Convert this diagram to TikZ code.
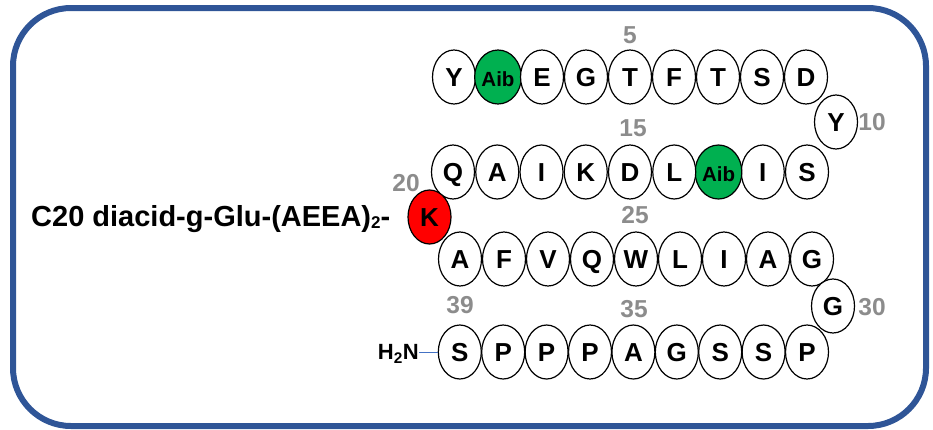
\documentclass[tikz,border=0pt]{standalone}
\usepackage{fontspec}
\setmainfont{Liberation Sans}
\usetikzlibrary{shapes.geometric}
\definecolor{frameblue}{HTML}{2F5597}
\definecolor{aibgreen}{HTML}{00B050}
\definecolor{lysred}{HTML}{FF0000}
\definecolor{numgray}{HTML}{8C8C8C}
\definecolor{linkblue}{HTML}{4472C4}
\newcommand{\aibtxt}{{\fontsize{20.5}{20.5}\selectfont Aib}}
\newcommand{\smallsubtwo}{\raisebox{-2pt}{\fontsize{17}{17}\selectfont 2}}
\tikzset{
  res/.style={ellipse, draw=black, line width=1.2pt, fill=white,
    minimum width=43pt, minimum height=54pt, inner sep=0pt,
    font=\fontsize{26}{26}\selectfont\bfseries, text height=18.6pt, text depth=0pt},
  num/.style={text=numgray, font=\fontsize{24.5}{24.5}\selectfont\bfseries,
    inner sep=0pt, text height=17.5pt, text depth=0pt},
  chaintext/.style={font=\fontsize{29}{29}\selectfont\bfseries, inner sep=0pt},
  frame/.style={draw=frameblue, line width=6pt, rounded corners=58pt}
}
\begin{document}
\begin{tikzpicture}[x=1pt,y=-1pt]
\useasboundingbox (0,0) rectangle (933,429);
\draw[frame] (13,8) rectangle (926,426);
% row 1: residues 1-9
\foreach \f/\l [count=\i] in {white/Y, aibgreen/\aibtxt, white/E, white/G, white/T, white/F, white/T, white/S, white/D}
  \node[res, fill=\f] (p\i) at ({454+44*(\i-1)}, 77) {\l};
\node[res] (p10) at (836,122) {Y};
% row 2: residues 11-19 (right to left)
\foreach \f/\l [count=\i from 11] in {white/S, white/I, aibgreen/\aibtxt, white/L, white/D, white/K, white/I, white/A, white/Q}
  \node[res, fill=\f] (p\i) at ({807-44.25*(\i-11)}, 172) {\l};
\node[res, fill=lysred] (p20) at (429.5,217) {K};
% row 3: residues 21-29
\foreach \l [count=\i from 21] in {A,F,V,Q,W,L,I,A,G}
  \node[res] (p\i) at ({460+44*(\i-21)}, 259) {\l};
\node[res] (p30) at (833,306) {G};
% row 4: residues 31-39 (right to left)
\foreach \l [count=\i from 31] in {P,S,S,G,A,P,P,P,S}
  \node[res] (p\i) at ({807-43.4*(\i-31)}, 352) {\l};
% position numbers
\node[num] (n5) at (630,35) {5};
\node[num] (n10) at (872,122) {10};
\node[num] (n15) at (633,128) {15};
\node[num] (n20) at (406,182.5) {20};
\node[num] (n25) at (635,215) {25};
\node[num] (n30) at (872,307) {30};
\node[num] (n35) at (634,308.5) {35};
\node[num] (n39) at (460,305) {39};
% side chain and N-terminus
\node[chaintext, anchor=base west] (chain) at (31,226) {C20 diacid-g-Glu-(AEEA)\smallsubtwo-};
\node[font=\fontsize{22}{22}\selectfont\bfseries, inner sep=0pt, anchor=east,
      text height=15.8pt, text depth=0pt] (h2n) at (419,352) {H\textsubscript{2}N};
\draw[linkblue, line width=0.8pt] (h2n.east) -- (p39.west);
\end{tikzpicture}
\end{document}
